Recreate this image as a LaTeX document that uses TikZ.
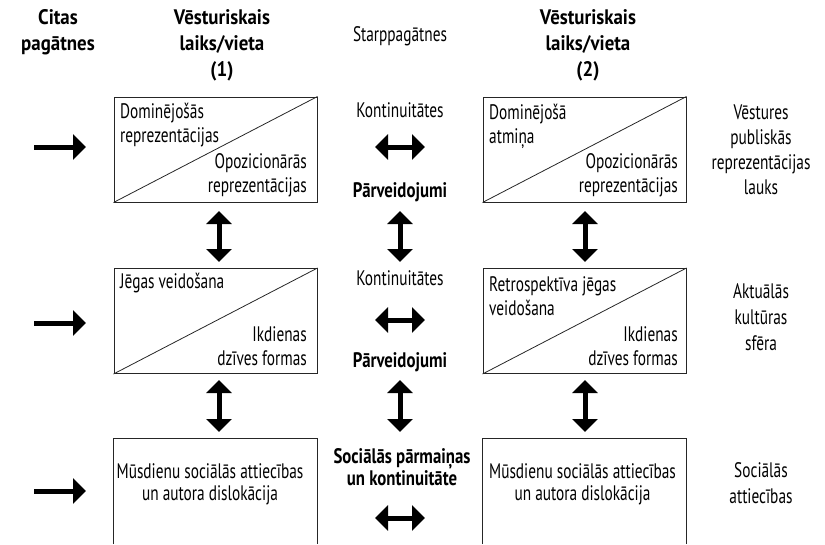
\documentclass[tikz,border=0pt]{standalone}
\usepackage{fontspec}
\setmainfont{PT Sans}[FakeStretch=0.73]
\newfontfamily\hdrfont{PT Sans}[FakeStretch=0.9]
\newfontfamily\cboldfont{PT Sans}[FakeStretch=0.8]
\usetikzlibrary{arrows.meta}
\begin{document}
\begin{tikzpicture}[x=1pt,y=-1pt,
  box/.style={draw=black!85, line width=1pt, minimum width=203pt, minimum height=105pt, inner sep=0pt},
  openbox/.style={minimum width=203pt, minimum height=105pt, inner sep=0pt},
  diag/.style={draw=black!85, line width=0.8pt},
  lbl/.style={font=\fontsize{21}{24}\selectfont, inner sep=0pt},
  hdr/.style={font=\hdrfont\fontsize{21}{26}\selectfont\bfseries, inner sep=0pt, align=center},
  bold/.style={font=\cboldfont\fontsize{21}{22}\selectfont\bfseries, inner sep=0pt, align=center},
  onearrow/.style={line width=5pt, -{Triangle[length=13pt,width=25pt]}},
  twoarrow/.style={line width=5pt, {Triangle[length=13pt,width=25pt]}-{Triangle[length=13pt,width=25pt]}},
]
\useasboundingbox (0,0) rectangle (825,544);

% headers
\node[hdr] (h0) at (58,32) {Citas\\pagātnes};
\node[hdr] (h1) at (222,45) {Vēsturiskais\\laiks/vieta\\(1)};
\node[lbl] (h2) at (400,36) {Starppagātnes};
\node[hdr] (h3) at (588,45) {Vēsturiskais\\laiks/vieta\\(2)};

% boxes
\node[box] (a1) at (215.5,149.5) {};
\node[box] (a2) at (584.5,149.5) {};
\node[box] (b1) at (215.5,321) {};
\node[box] (b2) at (584.5,321) {};
\node[openbox] (c1) at (215.5,491.5) {};
\node[openbox] (c2) at (584.5,491.5) {};
\draw[draw=black!85, line width=1pt] (c1.south west) -- (c1.north west) -- (c1.north east) -- (c1.south east);
\draw[draw=black!85, line width=1pt] (c2.south west) -- (c2.north west) -- (c2.north east) -- (c2.south east);

\draw[diag] (a1.south west) -- (a1.north east);
\draw[diag] (a2.south west) -- (a2.north east);
\draw[diag] (b1.south west) -- (b1.north east);
\draw[diag] (b2.south west) -- (b2.north east);

% box texts
\node[lbl, align=left, anchor=west] (a1t) at (120,125) {Dominējošās\\reprezentācijas};
\node[lbl, align=right, anchor=east] (a1b) at (307,175.5) {Opozicionārās\\reprezentācijas};
\node[lbl, align=left, anchor=west] (a2t) at (489,126) {Dominējošā\\atmiņa};
\node[lbl, align=right, anchor=east] (a2b) at (678,175.5) {Opozicionārās\\reprezentācijas};
\node[lbl, anchor=west] (b1t) at (120,283) {Jēgas veidošana};
\node[lbl, align=right, anchor=east] (b1b) at (307,346.5) {Ikdienas\\dzīves formas};
\node[lbl, align=left, anchor=west] (b2t) at (489,296) {Retrospektīva jēgas\\veidošana};
\node[lbl, align=right, anchor=east] (b2b) at (678,346.5) {Ikdienas\\dzīves formas};
\node[lbl, align=center, font=\fontsize{21}{22}\selectfont] (c1t) at (210,484) {Mūsdienu sociālās attiecības\\un autora dislokācija};
\node[lbl, align=center, font=\fontsize{21}{22}\selectfont] (c2t) at (582.5,484) {Mūsdienu sociālās attiecības\\un autora dislokācija};

% centre column
\node[lbl] (k1) at (400,110) {Kontinuitātes};
\node[bold] (p1) at (400,192) {Pārveidojumi};
\node[lbl] (k2) at (400,278) {Kontinuitātes};
\node[bold] (p2) at (400,362) {Pārveidojumi};
\node[bold] (s1) at (402,467) {Sociālās pārmaiņas\\un kontinuitāte};

% right column
\node[lbl, align=center, font=\fontsize{21}{25}\selectfont] (r1) at (761,149.5) {Vēstures\\publiskās\\reprezentācijas\\lauks};
\node[lbl, align=center, font=\fontsize{21}{26}\selectfont] (r2) at (761,317) {Aktuālās\\kultūras\\sfēra};
\node[lbl, align=center, font=\fontsize{21}{26}\selectfont] (r3) at (761,483.5) {Sociālās\\attiecības};

% arrow end points
\coordinate (l1s) at (34,147);  \coordinate (l1e) at (86,147);
\coordinate (l2s) at (34,323);  \coordinate (l2e) at (86,323);
\coordinate (l3s) at (34,491);  \coordinate (l3e) at (86,491);
\coordinate (m1s) at (375,147); \coordinate (m1e) at (425,147);
\coordinate (m2s) at (375,320); \coordinate (m2e) at (425,320);
\coordinate (m3s) at (375,518); \coordinate (m3e) at (425,518);
\foreach \n/\x in {u/219,v/400,w/585}{
  \coordinate (\n1s) at (\x,211); \coordinate (\n1e) at (\x,262);
  \coordinate (\n2s) at (\x,380); \coordinate (\n2e) at (\x,432);
}

\draw[onearrow] (l1s) -- (l1e);
\draw[onearrow] (l2s) -- (l2e);
\draw[onearrow] (l3s) -- (l3e);
\draw[twoarrow] (m1s) -- (m1e);
\draw[twoarrow] (m2s) -- (m2e);
\draw[twoarrow] (m3s) -- (m3e);
\draw[twoarrow] (u1s) -- (u1e);
\draw[twoarrow] (u2s) -- (u2e);
\draw[twoarrow] (v1s) -- (v1e);
\draw[twoarrow] (v2s) -- (v2e);
\draw[twoarrow] (w1s) -- (w1e);
\draw[twoarrow] (w2s) -- (w2e);
\end{tikzpicture}
\end{document}
